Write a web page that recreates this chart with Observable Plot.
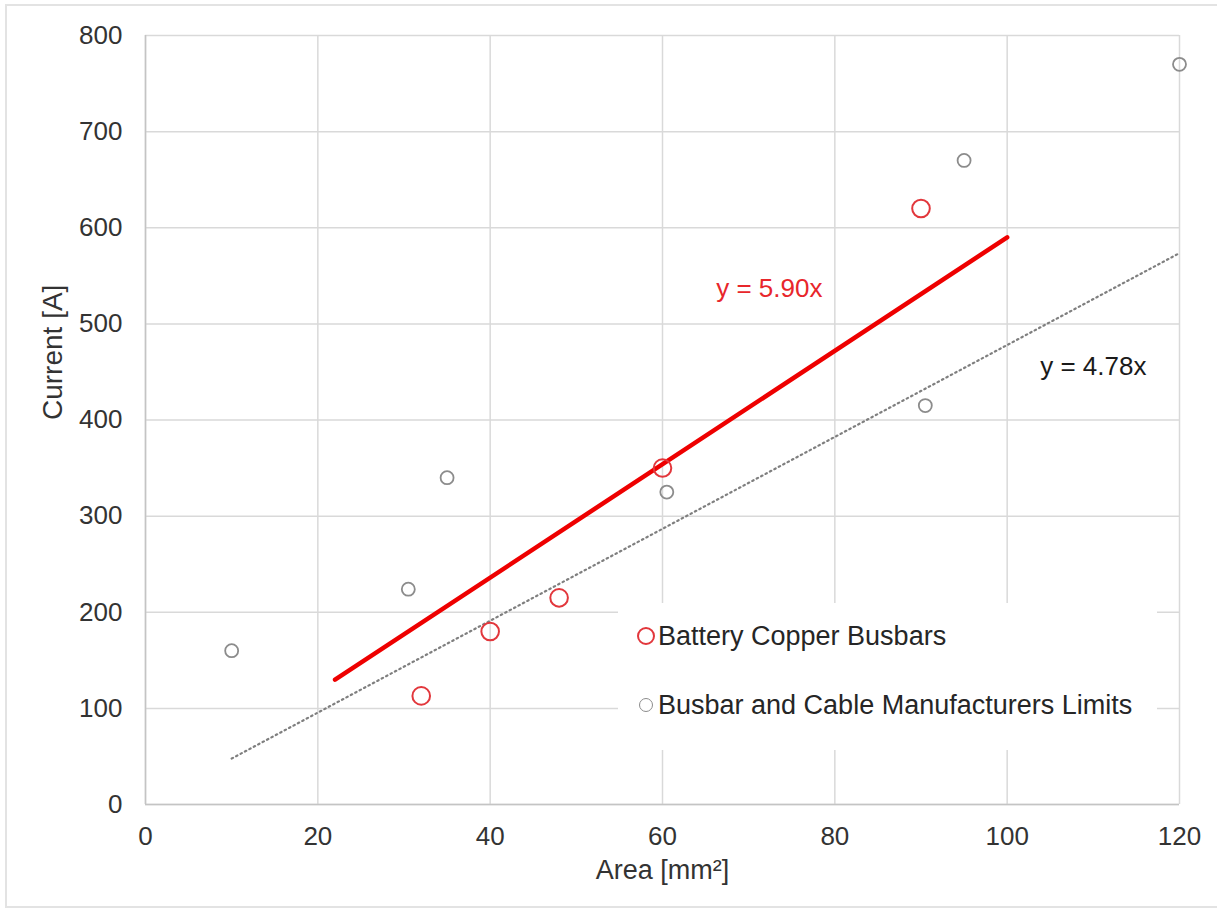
<!DOCTYPE html>
<html>
<head>
<meta charset="utf-8">
<script src="https://cdn.jsdelivr.net/npm/d3@7"></script>
<script src="https://cdn.jsdelivr.net/npm/@observablehq/plot@0.6"></script>
<style>
  html, body { margin: 0; padding: 0; background: #fff; }
  #wrap { position: relative; width: 1217px; height: 913px; overflow: hidden; font-family: "Liberation Sans", Arial, sans-serif; }
  #border { position: absolute; left: 5px; top: 4px; width: 1220px; height: 904px; border: 2px solid #e3e3e3; box-sizing: border-box; pointer-events: none; }
  #legend { position: absolute; left: 618px; top: 603px; width: 539px; height: 147px; background: #fff; color: #262626; font-size: 27px; }
  .sym { position: absolute; border-radius: 50%; box-sizing: border-box; }
  .txt { position: absolute; left: 40px; line-height: 30px; height: 30px; white-space: nowrap; }
</style>
</head>
<body>
<div id="wrap">
  <div id="chart"></div>
  <div id="legend"></div>
  <div id="border"></div>
</div>
<script>
// ---- data ----
const areaCopper = [32, 40, 48, 60, 90];
const currentCopper = [113, 180, 215, 350, 620];
const areaLimits = [10, 30.5, 35, 60.5, 90.5, 95, 120];
const currentLimits = [160, 224, 340, 325, 415, 670, 770];
const seriesNames = ["Battery Copper Busbars", "Busbar and Cable Manufacturers Limits"];
const seriesColors = ["#e2373c", "#8c8c8c"];
const trendSlopes = [5.90, 4.78];
const trendRangeCopper = [22, 100];
const trendRangeLimits = [10, 120];
const trendLabels = ["y = 5.90x", "y = 4.78x"];
const trendLabelX = [72.4, 110];
const trendLabelY = [537, 455];
const xTicks = [0, 20, 40, 60, 80, 100, 120];
const yTicks = [0, 100, 200, 300, 400, 500, 600, 700, 800];

// ---- derived tables ----
const copper = areaCopper.map((a, i) => ({x: a, y: currentCopper[i]}));
const limits = areaLimits.map((a, i) => ({x: a, y: currentLimits[i]}));
const trendCopper = trendRangeCopper.map(x => ({x, y: trendSlopes[0] * x}));
const trendLimits = trendRangeLimits.map(x => ({x, y: trendSlopes[1] * x}));
const labels = trendLabels.map((t, i) => ({t, x: trendLabelX[i], y: trendLabelY[i], c: i === 0 ? "#e8262b" : "#1a1a1a"}));

const chart = Plot.plot({
  width: 1217,
  height: 913,
  marginLeft: 145,
  marginRight: 38,
  marginTop: 35,
  marginBottom: 109,
  x: {domain: [0, 120]},
  y: {domain: [0, 800]},
  style: {fontFamily: "'Liberation Sans', Arial, sans-serif", fontSize: "26px", color: "#333", background: "transparent"},
  marks: [
    Plot.gridX(xTicks, {stroke: "#d9d9d9", strokeOpacity: 1, strokeWidth: 1.5}),
    Plot.gridY(yTicks, {stroke: "#d9d9d9", strokeOpacity: 1, strokeWidth: 1.5}),
    Plot.ruleX([0], {stroke: "#c4c4c4", strokeWidth: 1.5}),
    Plot.ruleY([0], {stroke: "#c4c4c4", strokeWidth: 1.5}),
    Plot.axisX({ticks: xTicks, tickSize: 0, tickPadding: 22, label: null, fontSize: 26}),
    Plot.axisY({ticks: yTicks, tickSize: 0, tickPadding: 23, label: null, fontSize: 26}),
    Plot.line(trendLimits, {x: "x", y: "y", stroke: "#7f7f7f", strokeWidth: 2.2, strokeDasharray: "1.5,3.5", strokeLinecap: "round"}),
    Plot.line(trendCopper, {x: "x", y: "y", stroke: "#ee0000", strokeWidth: 4.5}),
    Plot.dot(limits, {x: "x", y: "y", r: 6.5, stroke: seriesColors[1], strokeWidth: 1.8, fill: "none"}),
    Plot.dot(copper, {x: "x", y: "y", r: 8.8, stroke: seriesColors[0], strokeWidth: 2, fill: "none"}),
    Plot.text(labels, {x: "x", y: "y", text: "t", fill: "c", fontSize: 26}),
    Plot.text(["Area [mm²]"], {frameAnchor: "bottom", dy: 74, fontSize: 27, fill: "#333"}),
    Plot.text(["Current [A]"], {frameAnchor: "left", dx: -92, rotate: -90, fontSize: 28, fill: "#333"})
  ]
});
document.getElementById("chart").appendChild(chart);

// legend
const legend = document.getElementById("legend");
const centersY = [33, 102];
const sizes = [18, 14];
seriesNames.forEach((name, i) => {
  const sym = document.createElement("span");
  sym.className = "sym";
  sym.style.width = sizes[i] + "px";
  sym.style.height = sizes[i] + "px";
  sym.style.left = (28 - sizes[i] / 2) + "px";
  sym.style.top = (centersY[i] - sizes[i] / 2) + "px";
  sym.style.border = (i === 0 ? 2.2 : 1.8) + "px solid " + seriesColors[i];
  const txt = document.createElement("span");
  txt.className = "txt";
  txt.style.top = (centersY[i] - 15) + "px";
  txt.textContent = name;
  legend.appendChild(sym);
  legend.appendChild(txt);
});
</script>
</body>
</html>
